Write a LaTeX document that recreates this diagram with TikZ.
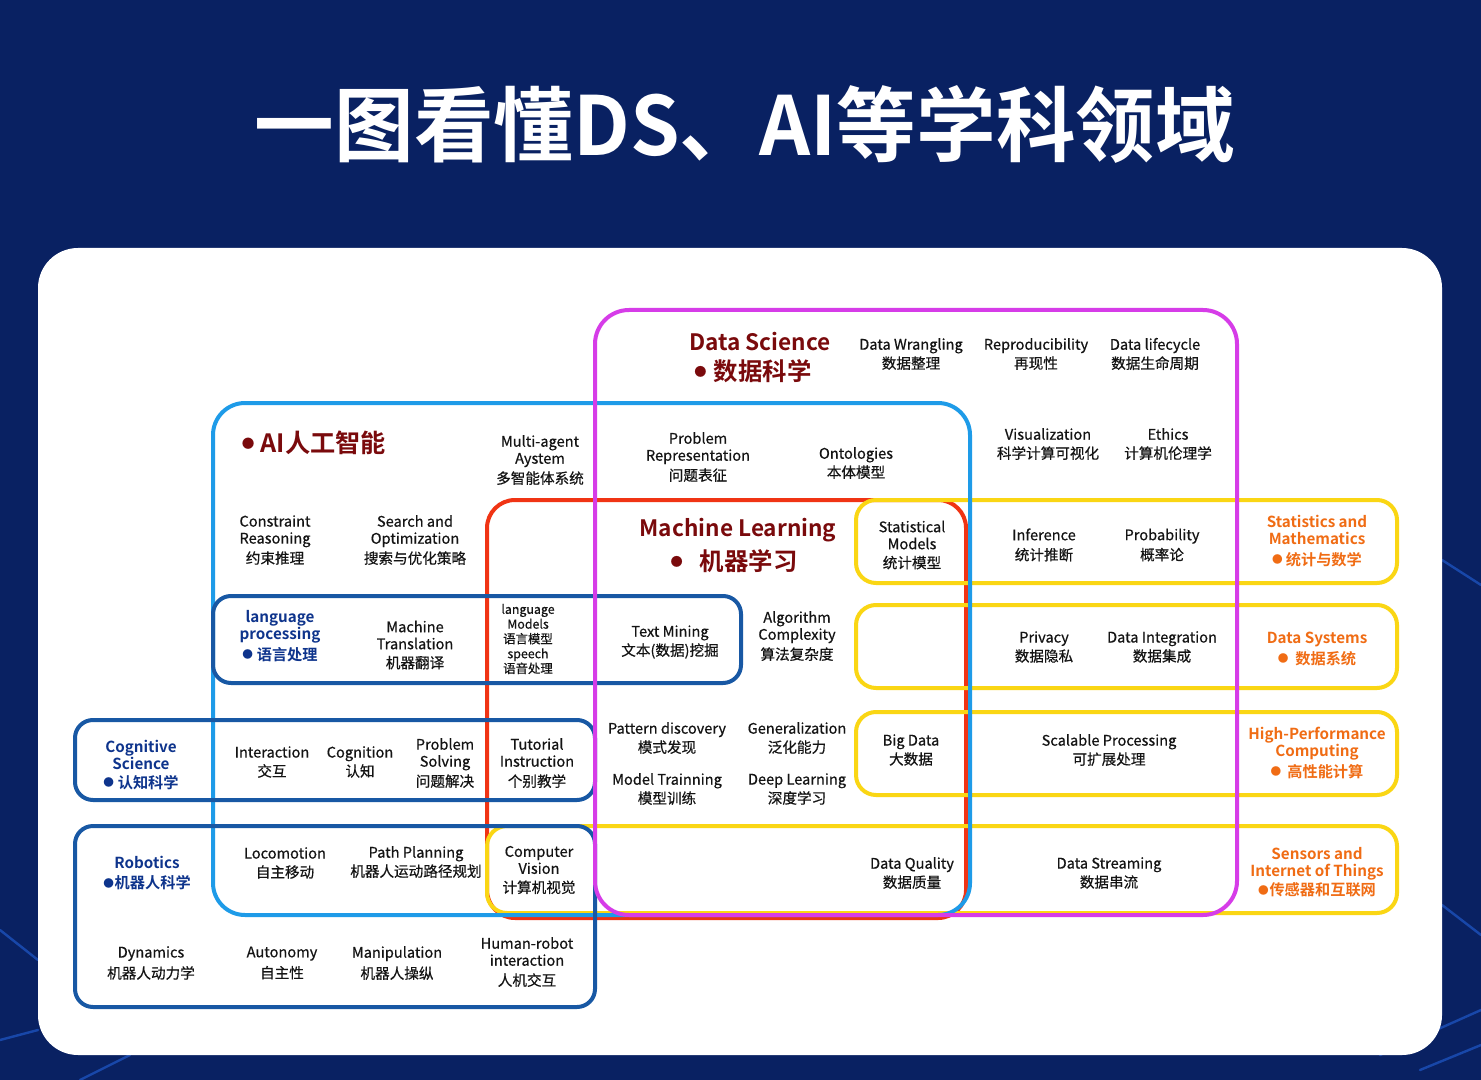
\documentclass[tikz,border=0pt]{standalone}
\usepackage{fontspec}
\usepackage{graphicx}
\setmainfont{Noto Sans CJK SC}[BoldFont={Noto Sans CJK SC Bold}]
\newfontfamily\medfont{Noto Sans CJK SC}[FakeBold=0.5]
\definecolor{bgnavy}{RGB}{9,33,98}
\definecolor{cmag}{RGB}{214,60,232}
\definecolor{clblue}{RGB}{30,155,232}
\definecolor{cdblue}{RGB}{24,88,164}
\definecolor{cred}{RGB}{240,52,20}
\definecolor{cyel}{RGB}{250,214,20}
\definecolor{cdred}{RGB}{122,10,12}
\definecolor{corange}{RGB}{240,108,20}
\definecolor{cnavy}{RGB}{14,52,140}
\definecolor{streak}{RGB}{40,110,240}
\newcommand\mybul{\raisebox{0.08em}{\scalebox{0.7}{●}}}
\newcommand\headbul{\raisebox{0.17em}{\scalebox{0.5}{●}}}
\begin{document}
\begin{tikzpicture}[x=0.5pt,y=-0.5pt,
  itm/.style={align=center,inner sep=0pt,text=black!92,font=\medfont\fontsize{7.3pt}{8.5pt}\selectfont},
  smallitm/.style={align=center,inner sep=0pt,text=black!92,font=\medfont\fontsize{6.2pt}{7.4pt}\selectfont},
  headred/.style={inner sep=0pt,text=cdred,font=\bfseries\fontsize{11.3pt}{13pt}\selectfont},
  headredcj/.style={inner sep=0pt,text=cdred,font=\bfseries\fontsize{12.2pt}{13pt}\selectfont},
  headorange/.style={align=center,inner sep=0pt,text=corange,font=\bfseries\fontsize{7.6pt}{8.6pt}\selectfont},
  headnavy/.style={align=center,inner sep=0pt,text=cnavy,font=\bfseries\fontsize{7.6pt}{8.6pt}\selectfont},
  frame/.style={line width=2pt},
  streakline/.style={streak,line width=1.2pt,opacity=0.5,line cap=round}]
\fill[bgnavy] (0,0) rectangle (1481,1080);
\useasboundingbox (0,0) rectangle (1481,1080);
% background streaks
\draw[streakline] (1442,560) -- (1481,585);
\draw[streakline] (1442,905) -- (1481,935);
\draw[streakline] (1380,1055) -- (1481,1010);
\draw[streakline] (1420,1070) -- (1481,1045);
\draw[streakline] (0,930) -- (38,960);
\draw[streakline] (0,1040) -- (38,1030);
\draw[streakline] (80,1080) -- (130,1055);
% title
\node[text=white,inner sep=0pt,font=\bfseries] (title) at (745,124)
  {\resizebox{490pt}{35pt}{一图看懂DS、AI等学科领域}};
% card
\fill[white,rounded corners=20pt] (38,248) rectangle (1442,1055);
% frames
\draw[frame,cred,rounded corners=14pt] (487,500) rectangle (966,918);
\draw[frame,cyel,rounded corners=10pt] (856,500) rectangle (1397,583);
\draw[frame,cyel,rounded corners=10pt] (856,605) rectangle (1397,688);
\draw[frame,cyel,rounded corners=10pt] (856,712) rectangle (1397,795);
\draw[frame,cyel,rounded corners=10pt] (487,826) rectangle (1397,913);
\draw[frame,clblue,rounded corners=16pt] (213,403) rectangle (970,915);
\draw[frame,cdblue,rounded corners=9pt] (213,596) rectangle (741,683);
\draw[frame,cdblue,rounded corners=9pt] (75,720) rectangle (595,800);
\draw[frame,cdblue,rounded corners=9pt] (75,826) rectangle (595,1007);
\draw[frame,cmag,rounded corners=17pt] (595,310) rectangle (1237,915);
% Data Science
\node[headred] (dsA) at (760,341) {Data Science};
\node[headredcj] (dsB) at (753,371) {\headbul\hspace{0.3em}数据科学};
\node[itm] (wr) at (911,354) {Data Wrangling\\[1pt]数据整理};
\node[itm] (rep) at (1036,354) {Reproducibility\\[1pt]再现性};
\node[itm] (lc) at (1155,354) {Data lifecycle\\[1pt]数据生命周期};
\node[itm] (vis) at (1048,444) {Visualization\\[1pt]科学计算可视化};
\node[itm] (eth) at (1168,444) {Ethics\\[1pt]计算机伦理学};
% AI
\node[headredcj,font=\bfseries\fontsize{12.6pt}{13pt}\selectfont] (ai) at (314,443) {\headbul\hspace{0.25em}AI人工智能};
\node[itm] (mas) at (540,460) {Multi-agent\\Aystem\\[1.5pt]多智能体系统};
\node[itm] (pr) at (698,457) {Problem\\Representation\\[1.5pt]问题表征};
\node[itm] (ont) at (856,463) {Ontologies\\[1pt]本体模型};
\node[itm] (cr) at (275,540) {Constraint\\Reasoning\\[1.5pt]约束推理};
\node[itm] (so) at (415,540) {Search and\\Optimization\\[1.5pt]搜索与优化策略};
% ML
\node[headred] (mlA) at (738,530) {Machine Learning};
\node[headredcj] (mlB) at (734,561) {\headbul\hspace{0.7em}机器学习};
\node[itm] (sm) at (912,545) {Statistical\\Models\\[1pt]统计模型};
\node[itm] (inf) at (1044,545) {Inference\\[1.5pt]统计推断};
\node[itm] (prob) at (1162,545) {Probability\\[1.5pt]概率论};
\node[headorange] (stat) at (1317,541) {Statistics and\\Mathematics\\[1.5pt]\mybul\hspace{0.2em}统计与数学};
% language row
\node[headnavy] (lp) at (280,636) {language\\processing\\[1.5pt]\mybul\hspace{0.25em}语言处理};
\node[itm] (mt) at (415,645) {Machine\\Translation\\[1pt]机器翻译};
\node[smallitm] (lm) at (528,639) {language\\Models\\语言模型\\speech\\语音处理};
\node[itm] (tm) at (670,642) {Text Mining\\[1pt]文本(数据)挖掘};
\node[itm] (ac) at (797,636) {Algorithm\\Complexity\\[1.5pt]算法复杂度};
\node[itm] (priv) at (1044,647) {Privacy\\[1pt]数据隐私};
\node[itm] (di) at (1162,647) {Data Integration\\[1pt]数据集成};
\node[headorange] (dsys) at (1317,649) {Data Systems\\[1.5pt]\mybul\hspace{0.45em}数据系统};
% cognitive row
\node[headnavy] (cs) at (141,765) {Cognitive\\Science\\[0.5pt]\mybul\hspace{0.25em}认知科学};
\node[itm] (inter) at (272,762) {Interaction\\[1pt]交互};
\node[itm] (cog) at (360,762) {Cognition\\[1pt]认知};
\node[itm] (ps) at (445,763) {Problem\\Solving\\[1.5pt]问题解决};
\node[itm] (ti) at (537,763) {Tutorial\\Instruction\\[1.5pt]个别教学};
\node[itm] (pd) at (667,738) {Pattern discovery\\[1pt]模式发现};
\node[itm] (gen) at (797,738) {Generalization\\[1pt]泛化能力};
\node[itm] (mtr) at (667,789) {Model Trainning\\[1pt]模型训练};
\node[itm] (dl) at (797,789) {Deep Learning\\[1pt]深度学习};
\node[itm] (bd) at (911,750) {Big Data\\[1pt]大数据};
\node[itm] (sp) at (1109,750) {Scalable Processing\\[1pt]可扩展处理};
\node[headorange] (hpc) at (1317,753) {High-Performance\\Computing\\[1.5pt]\mybul\hspace{0.4em}高性能计算};
% robotics
\node[headnavy] (rob) at (147,873) {Robotics\\[1.5pt]\mybul\hspace{0.05em}机器人科学};
\node[itm] (loc) at (285,863) {Locomotion\\[1pt]自主移动};
\node[itm] (pp) at (416,862) {Path Planning\\[1pt]机器人运动路径规划};
\node[itm] (cv) at (539,870) {Computer\\Vision\\[1pt]计算机视觉};
\node[itm] (dq) at (912,873) {Data Quality\\[1pt]数据质量};
\node[itm] (dstr) at (1109,873) {Data Streaming\\[1pt]数据串流};
\node[headorange] (iot) at (1317,872) {Sensors and\\Internet of Things\\[1pt]\mybul\hspace{0.05em}传感器和互联网};
\node[itm] (dyn) at (151,963) {Dynamics\\[2pt]机器人动力学};
\node[itm] (aut) at (282,963) {Autonomy\\[2pt]自主性};
\node[itm] (man) at (397,963) {Manipulation\\[2pt]机器人操纵};
\node[itm] (hri) at (527,962) {Human-robot\\interaction\\[1.5pt]人机交互};
\end{tikzpicture}
\end{document}
